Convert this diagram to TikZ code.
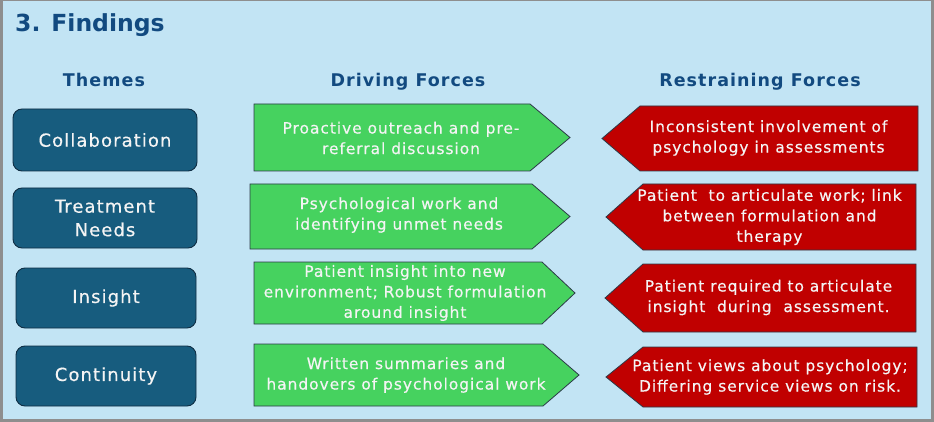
\documentclass[tikz,border=0pt]{standalone}
\usepackage{fontspec}
\setmainfont{DejaVu Sans}
\newfontfamily\labelfont[LetterSpace=6, FakeBold=0.4]{DejaVu Sans}
\newfontfamily\headfont[LetterSpace=6]{DejaVu Sans}
\definecolor{panelbg}{HTML}{C2E4F4}
\definecolor{panelframe}{HTML}{8E8E8E}
\definecolor{headblue}{HTML}{124A80}
\definecolor{themefill}{HTML}{175C7E}
\definecolor{themeline}{HTML}{0F2E44}
\definecolor{drivegreen}{HTML}{46D25F}
\definecolor{restrainred}{HTML}{C00000}
\definecolor{arrowline}{HTML}{2C3A48}
\definecolor{boxtext}{HTML}{F4F4F4}
\tikzset{
  heading/.style={font=\headfont\fontsize{17.5}{21}\selectfont\bfseries, text=headblue, inner sep=0pt, anchor=base},
  theme/.style={draw=themeline, line width=0.9pt, fill=themefill, rounded corners=9pt,
    text=boxtext, font=\labelfont\fontsize{18}{23.5}\selectfont, align=center, inner sep=0pt},
  drivebox/.style={draw=arrowline, line width=0.8pt, fill=drivegreen, line join=miter},
  restrainbox/.style={draw=arrowline, line width=0.8pt, fill=restrainred, line join=miter},
  boxlabel/.style={text=boxtext, font=\labelfont\fontsize{15.5}{20.5}\selectfont, align=center, inner sep=0pt}
}
\begin{document}
\begin{tikzpicture}[x=1pt,y=-1pt]
  % panel
  \fill[panelframe] (0,0) rectangle (934,422);
  \fill[panelbg] (2.5,1.5) rectangle (931,419);
  \useasboundingbox (0,0) rectangle (934,422);

  % title and column headings
  \node[font=\fontsize{23.5}{28}\selectfont\bfseries, text=headblue, inner sep=0pt, anchor=base west]
    (title) at (15,32) {3. Findings};
  \node[heading] (hthemes) at (104,87) {Themes};
  \node[heading] (hdrive) at (408,87) {Driving Forces};
  \node[heading] (hrestrain) at (760,87) {Restraining Forces};

  % themes
  \node[theme, minimum width=184pt, minimum height=62pt] (t1) at (105,140) {Collaboration};
  \node[theme, minimum width=184pt, minimum height=60pt] (t2) at (105,218) {Treatment\\Needs};
  \node[theme, minimum width=180pt, minimum height=60pt] (t3) at (106,298) {Insight};
  \node[theme, minimum width=180pt, minimum height=60pt] (t4) at (106,376) {Continuity};

  % driving forces (pointing right)
  \draw[drivebox] (254,104) -- (530,104) -- (570,137.5) -- (530,171) -- (254,171) -- cycle;
  \draw[drivebox] (250,184) -- (532,184) -- (570,216.5) -- (532,249) -- (250,249) -- cycle;
  \draw[drivebox] (254,262) -- (542,262) -- (575,293) -- (542,324) -- (254,324) -- cycle;
  \draw[drivebox] (254,344) -- (543,344) -- (579,375) -- (543,406) -- (254,406) -- cycle;
  \node[boxlabel] (d1) at (401,138) {Proactive outreach and pre-\\referral discussion};
  \node[boxlabel] (d2) at (399,215) {Psychological work and\\identifying unmet needs};
  \node[boxlabel] (d3) at (405,293) {Patient insight into new\\environment; Robust formulation\\around insight};
  \node[boxlabel] (d4) at (406,375) {Written summaries and\\handovers of psychological work};

  % restraining forces (pointing left)
  \draw[restrainbox] (918,106) -- (640,106) -- (602,138.5) -- (640,171) -- (918,171) -- cycle;
  \draw[restrainbox] (916,184) -- (643,184) -- (606,217) -- (643,250) -- (916,250) -- cycle;
  \draw[restrainbox] (916,264) -- (643,264) -- (605,298) -- (643,332) -- (916,332) -- cycle;
  \draw[restrainbox] (917,347) -- (643,347) -- (606,377) -- (643,407) -- (917,407) -- cycle;
  \node[boxlabel] (r1) at (768.5,138) {Inconsistent involvement of\\psychology in assessments};
  \node[boxlabel] (r2) at (769.5,217) {Patient\ \ to articulate work; link\\between formulation and\\therapy};
  \node[boxlabel] (r3) at (768.5,297.5) {Patient required to articulate\\insight\ \ during\ \ assessment.};
  \node[boxlabel] (r4) at (770,377) {Patient views about psychology;\\Differing service views on risk.};
\end{tikzpicture}
\end{document}
